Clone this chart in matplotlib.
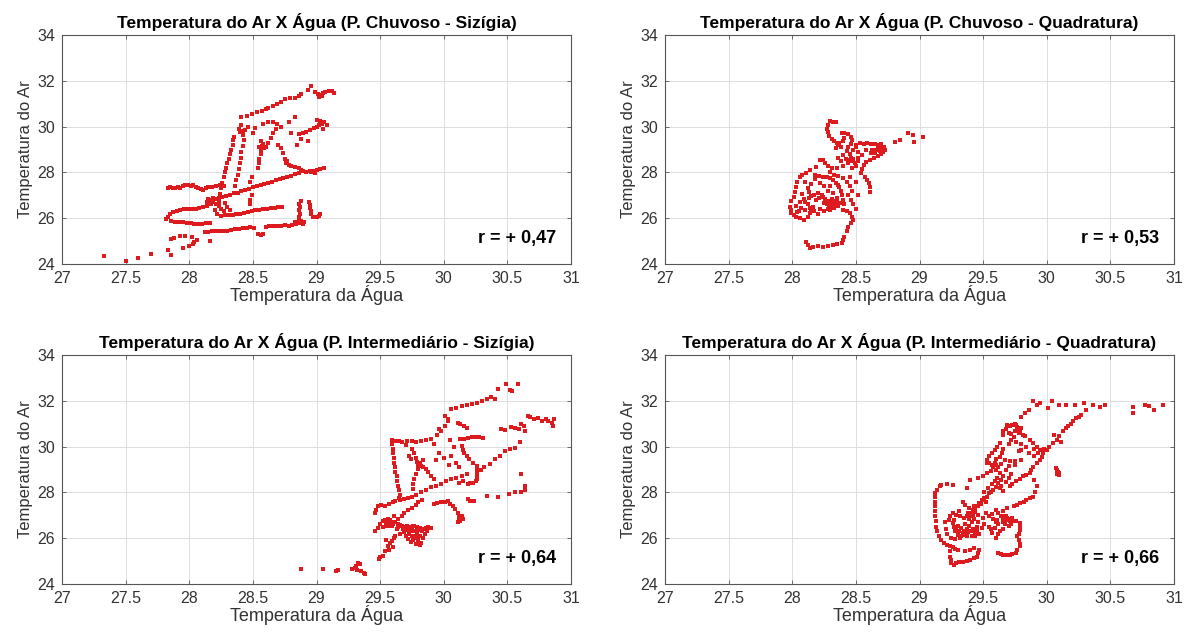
import matplotlib
matplotlib.use("Agg")
import matplotlib.pyplot as plt

plt.rcParams['font.family'] = ['Liberation Sans', 'DejaVu Sans']

titles = [
    "Temperatura do Ar X Água (P. Chuvoso - Sizígia)",
    "Temperatura do Ar X Água (P. Chuvoso - Quadratura)",
    "Temperatura do Ar X Água (P. Intermediário - Sizígia)",
    "Temperatura do Ar X Água (P. Intermediário - Quadratura)",
]
r_labels = ["r = + 0,47", "r = + 0,53", "r = + 0,64", "r = + 0,66"]
x_ticks = [27, 27.5, 28, 28.5, 29, 29.5, 30, 30.5, 31]
x_ticklabels = ["27", "27.5", "28", "28.5", "29", "29.5", "30", "30.5", "31"]
y_ticks = [24, 26, 28, 30, 32, 34]
xlabel = "Temperatura da Água"
ylabel = "Temperatura do Ar"

pts_chuvoso_sizigia = [
    (27.33,24.35),(27.50,24.15),(27.60,24.28),(27.70,24.42),(27.83,24.62),(27.86,24.38),
    (27.83,27.32),(27.85,27.36),(27.87,27.30),(27.89,27.34),(27.91,27.38),(27.93,27.33),(27.95,27.42),(27.97,27.46),(27.99,27.44),(28.01,27.40),(28.03,27.43),(28.05,27.38),(28.07,27.33),(28.09,27.28),(28.11,27.25),(28.13,27.30),(28.15,27.35),(28.18,27.38),(28.21,27.42),(28.24,27.46),(28.27,27.40),
    (28.14,26.72),(28.16,26.78),(28.18,26.70),(28.20,26.82),(28.23,26.88),(28.26,26.92),(28.29,26.98),(28.32,27.02),(28.35,27.08),(28.38,27.12),(28.41,27.18),(28.44,27.22),(28.47,27.28),(28.50,27.35),(28.53,27.40),(28.56,27.44),(28.59,27.50),(28.62,27.55),(28.65,27.60),(28.68,27.66),(28.71,27.70),(28.74,27.76),(28.77,27.80),(28.80,27.86),(28.83,27.92),(28.86,27.98),(28.89,28.04),(28.92,28.02),(28.95,28.08),(28.98,28.05),(29.00,28.12),(29.03,28.15),(29.06,28.18),(28.96,28.00),(28.99,27.98),
    (27.82,25.96),(27.83,26.05),(27.85,26.18),(27.87,26.26),(27.90,26.30),(27.93,26.35),(27.96,26.38),(27.99,26.40),(28.02,26.42),(28.05,26.40),(28.08,26.46),(28.11,26.50),(28.14,26.55),(28.17,26.60),
    (28.22,26.20),(28.25,26.10),(28.28,26.12),(28.31,26.15),(28.34,26.16),(28.37,26.18),(28.40,26.20),(28.43,26.24),(28.46,26.28),(28.49,26.32),(28.52,26.34),(28.55,26.37),(28.58,26.40),(28.61,26.40),(28.64,26.43),(28.67,26.45),(28.70,26.47),(28.73,26.48),
    (27.86,25.89),(27.89,25.85),(27.92,25.83),(27.95,25.82),(27.98,25.80),(28.01,25.78),(28.04,25.76),(28.07,25.74),(28.10,25.76),(28.13,25.78),(28.16,25.77),
    (28.12,25.38),(28.15,25.40),(28.18,25.43),(28.21,25.44),(28.24,25.46),(28.27,25.45),(28.30,25.46),(28.33,25.49),(28.36,25.52),(28.39,25.54),(28.42,25.56),(28.45,25.58),(28.48,25.60),(28.51,25.58),(28.54,25.32),(28.56,25.28),(28.58,25.30),(28.60,25.62),(28.63,25.66),(28.66,25.68),(28.69,25.66),(28.72,25.66),(28.75,25.70),(28.78,25.68),(28.81,25.72),(28.84,25.76),(28.87,25.80),(28.89,25.74),
    (28.86,25.90),(28.86,26.05),(28.87,26.20),(28.86,26.35),(28.87,26.50),(28.86,26.62),(28.88,26.76),
    (28.94,26.70),(28.95,26.58),(28.95,26.45),(28.96,26.32),(28.96,26.18),(28.97,26.06),(29.00,26.04),(29.02,26.10),(29.03,26.18),
    (27.86,25.09),(27.88,25.15),(27.93,25.23),(27.95,24.72),(27.97,25.22),(28.02,25.16),(28.03,24.87),(28.04,24.95),(28.06,25.05),(28.16,25.01),(28.00,24.80),
    (28.20,26.35),(28.22,26.60),(28.24,27.05),(28.25,27.30),(28.26,27.55),(28.27,27.80),(28.28,28.00),(28.29,28.20),(28.30,28.40),(28.31,28.60),(28.32,28.80),(28.33,29.00),(28.34,29.20),(28.34,29.40),(28.35,29.55),
    (28.36,27.40),(28.37,27.65),(28.38,27.90),(28.39,28.15),(28.40,28.40),(28.41,28.65),(28.41,28.90),(28.42,29.15),(28.43,29.40),(28.42,29.62),(28.40,29.75),(28.42,29.82),(28.44,29.86),(28.39,29.90),(28.41,30.05),
    (28.48,26.62),(28.48,26.80),(28.49,27.00),(28.48,27.60),(28.49,27.80),
    (28.54,28.20),(28.55,28.40),(28.55,28.60),(28.56,28.80),(28.56,29.00),(28.57,29.16),(28.58,29.22),(28.55,29.10),(28.56,29.38),(28.59,29.05),
    (28.60,29.10),(28.62,29.30),(28.64,29.50),(28.66,29.70),(28.68,29.90),(28.69,30.10),(28.66,30.18),(28.72,30.00),
    (28.70,29.20),(28.72,29.05),(28.74,28.85),(28.75,28.60),(28.76,28.40),(28.78,28.32),(28.80,28.30),(28.83,28.25),(28.86,28.20),(28.88,28.12),(28.77,28.48),
    (28.41,30.40),(28.45,30.45),(28.49,30.54),(28.53,30.62),(28.57,30.69),(28.60,30.78),(28.62,30.83),(28.66,30.90),(28.69,30.98),(28.72,31.08),(28.75,31.20),(28.79,31.25),(28.83,31.27),(28.86,31.35),(28.88,31.42),(28.93,31.60),(28.96,31.78),(28.99,31.50),(29.01,31.42),(29.03,31.38),(29.05,31.45),(29.07,31.49),(29.10,31.56),(29.12,31.55),(29.14,31.48),(29.02,31.30),(29.04,31.32),
    (28.86,29.67),(28.89,29.72),(28.92,29.78),(28.95,29.85),(28.98,29.92),(29.00,29.98),(29.02,30.05),(29.04,30.10),(29.06,30.18),(29.08,30.05),(29.05,29.90),(29.03,30.25),(29.00,30.30),
    (28.83,30.40),(28.78,30.18),(28.93,29.38),(28.52,29.96),(28.62,30.18),(28.46,30.00),(28.50,29.70),(28.80,29.70),(28.85,29.20),(28.88,29.45),(28.58,30.10),
    (28.17,26.65),(28.19,26.75),(28.21,26.62),(28.23,26.55),(28.25,26.40),(28.27,26.30),(28.15,26.85),(28.19,26.90),(28.23,26.72),(28.28,26.65),(28.30,26.50),(28.32,26.35),
    (28.85,25.85),(28.88,25.88),(28.83,25.82),(28.90,25.82),
]

pts_chuvoso_quadratura = [
    (28.30,30.25),(28.32,30.22),(28.34,30.18),(28.28,30.05),(28.27,29.90),(28.28,29.75),(28.29,29.60),(28.31,29.48),(28.33,29.38),(28.35,29.30),(28.37,29.27),(28.36,29.20),(28.38,29.10),(28.34,29.05),
    (28.39,29.70),(28.41,29.74),(28.44,29.66),(28.46,29.55),(28.47,29.40),(28.46,29.25),(28.44,29.10),(28.43,28.95),(28.45,28.80),(28.46,28.65),(28.45,28.54),(28.47,28.48),(28.49,28.42),(28.44,28.40),(28.48,28.60),(28.42,28.60),(28.40,28.75),
    (28.50,29.20),(28.53,29.27),(28.56,29.25),(28.59,29.30),(28.62,29.26),(28.65,29.22),(28.68,29.20),(28.70,29.05),(28.71,28.90),(28.70,28.80),(28.67,28.70),(28.64,28.62),(28.61,28.55),(28.58,28.45),(28.56,28.33),(28.55,28.15),(28.54,27.96),(28.57,27.80),(28.59,27.65),(28.60,27.53),(28.61,27.35),(28.61,27.16),(28.66,29.00),(28.62,28.85),(28.58,29.00),(28.55,28.75),(28.52,28.65),(28.72,29.10),(28.69,28.95),
    (28.81,29.34),(28.85,29.42),(28.91,29.70),(28.95,29.64),(28.96,29.34),(29.03,29.56),
    (28.19,28.25),(28.14,28.11),(28.11,27.96),(28.08,27.90),(28.06,27.82),(28.04,27.60),(28.03,27.38),(28.02,27.15),(28.01,26.94),(27.99,26.75),(27.98,26.51),(27.99,26.35),(27.99,26.22),(28.01,26.15),(28.03,26.07),(28.06,26.00),(28.09,25.92),(28.12,26.05),(28.14,26.22),(28.15,26.38),(28.16,26.51),(28.05,26.30),(28.07,26.45),(28.10,26.35),(28.03,26.55),(28.04,26.25),
    (28.19,26.80),(28.21,26.90),(28.24,26.94),(28.26,26.85),(28.28,26.75),(28.30,26.65),(28.32,26.51),(28.29,26.55),(28.31,26.70),(28.33,26.60),(28.35,26.72),(28.27,26.62),(28.25,26.68),(28.23,27.00),(28.17,27.00),(28.15,26.95),(28.13,26.88),(28.20,27.08),(28.27,27.82),(28.30,27.75),(28.32,27.67),(28.34,27.55),(28.36,27.45),(28.37,27.38),(28.38,27.20),(28.39,27.00),(28.40,26.80),(28.41,26.60),(28.40,26.36),(28.24,27.80),(28.21,27.85),(28.18,27.90),(28.22,28.54),(28.24,28.54),(28.26,28.40),(28.28,28.30),
    (28.43,26.30),(28.45,26.22),(28.47,26.05),(28.48,25.92),(28.46,25.80),(28.44,25.63),(28.43,25.45),(28.41,25.20),(28.40,25.05),(28.39,24.91),(28.35,24.86),(28.32,24.83),(28.28,24.80),(28.24,24.76),(28.20,24.78),(28.16,24.76),(28.14,24.69),(28.12,24.85),(28.11,24.98),
    (28.10,27.60),(28.12,27.30),(28.08,27.05),(28.35,28.20),(28.45,27.80),(28.50,27.60),(28.47,27.20),(28.52,27.00),
    (28.10,26.70),(28.12,26.60),(28.14,26.45),(28.17,26.30),(28.20,26.20),(28.22,26.40),(28.25,26.30),(28.28,26.40),(28.30,26.35),(28.33,26.45),(28.36,26.55),(28.38,26.65),(28.35,26.90),(28.32,27.10),(28.28,27.20),(28.25,27.40),(28.22,27.55),(28.18,27.70),(28.15,27.50),(28.13,27.15),(28.09,26.85),(28.06,26.70),(28.31,26.85),(28.34,26.75),(28.30,27.40),(28.33,27.90),(28.36,27.85),(28.40,27.75),(28.43,27.60),(28.45,27.40),(28.44,27.00),(28.46,26.80),(28.48,26.60),(28.50,26.40),(28.47,28.20),(28.50,28.30),(28.52,28.50),(28.40,28.30),(28.38,28.50),(28.36,28.65),(28.31,28.20),(28.30,28.00),(28.48,29.00),(28.50,29.10),(28.52,28.90),(28.41,29.50),(28.40,29.35),(28.63,29.00),(28.65,28.85),(28.67,29.10),(28.70,29.25),(28.73,29.00),
]

pts_intermediario_sizigia = [
    (28.88,24.65),(29.05,24.65),(29.15,24.58),(29.17,24.60),(29.28,24.65),(29.30,24.72),(29.31,24.80),(29.33,24.90),(29.34,24.87),(29.35,24.58),(29.37,24.50),(29.38,24.43),(29.32,24.62),
    (29.49,25.10),(29.50,25.16),(29.52,25.23),(29.54,25.45),(29.56,25.67),(29.58,25.80),(29.59,25.89),(29.61,26.00),(29.62,26.10),(29.57,25.50),(29.55,25.90),(29.60,25.60),
    (29.46,26.30),(29.48,26.45),(29.50,26.60),(29.52,26.76),(29.54,26.80),(29.56,26.83),(29.58,26.78),(29.60,26.72),(29.62,26.69),(29.64,26.62),(29.66,26.57),(29.67,26.54),(29.69,26.50),(29.71,26.54),(29.72,26.50),(29.74,26.47),(29.76,26.52),(29.77,26.54),(29.79,26.48),(29.81,26.45),(29.82,26.40),(29.84,26.42),(29.86,26.44),(29.88,26.47),(29.90,26.45),(29.75,26.10),(29.77,26.00),(29.80,25.89),(29.82,25.81),(29.78,25.75),(29.72,25.96),(29.70,26.10),(29.69,26.25),(29.73,26.20),(29.76,26.30),(29.79,26.20),(29.81,26.10),(29.84,26.00),(29.66,26.20),(29.63,26.40),(29.58,26.55),(29.55,26.55),(29.52,26.50),(29.61,26.95),
    (29.46,27.12),(29.47,27.25),(29.48,27.41),(29.51,27.45),(29.54,27.41),(29.57,27.50),(29.60,27.58),(29.62,27.63),(29.66,27.66),(29.69,27.70),(29.72,27.74),(29.75,27.78),(29.78,27.88),(29.82,28.00),(29.86,28.10),(29.90,28.22),(29.94,28.28),(29.98,28.36),(30.02,28.48),(30.06,28.58),(30.10,28.65),(30.14,28.72),(30.18,28.80),
    (29.59,26.54),(29.62,26.70),(29.64,26.83),(29.67,26.98),(29.69,27.12),(29.72,27.22),(29.75,27.34),(29.78,27.45),(29.80,27.56),(29.83,27.65),
    (29.59,30.30),(29.59,30.10),(29.60,29.90),(29.60,29.70),(29.61,29.50),(29.61,29.30),(29.62,29.10),(29.62,28.90),(29.63,28.70),(29.63,28.50),(29.64,28.30),(29.65,28.10),(29.66,27.90),(29.65,27.75),
    (29.62,30.25),(29.65,30.25),(29.67,30.22),(29.71,30.24),(29.75,30.25),(29.78,30.20),(29.82,30.25),(29.86,30.28),(29.90,30.33),(29.70,30.05),
    (29.75,29.90),(29.77,29.74),(29.78,29.50),(29.79,29.31),(29.80,29.15),(29.80,29.02),(29.78,28.80),(29.77,28.58),(29.76,28.36),(29.76,28.14),(29.73,29.60),(29.74,29.45),
    (29.82,29.16),(29.84,29.10),(29.86,29.02),(29.88,28.90),(29.90,28.72),(29.92,28.60),(29.81,29.30),(29.84,29.40),
    (29.92,30.10),(29.95,30.50),(29.96,30.76),(29.98,30.70),(30.01,30.90),(30.03,31.10),(30.01,31.34),(30.03,31.20),(30.06,31.64),(30.10,31.70),(30.14,31.78),(30.18,31.80),(30.22,31.85),(30.26,31.92),(30.30,32.00),(30.34,32.08),(30.37,32.15),(30.40,32.10),(30.43,32.51),(30.49,32.73),(30.52,32.45),(30.54,32.44),(30.58,32.73),
    (30.05,30.30),(30.08,30.00),(30.11,31.05),(30.13,31.00),(30.16,30.90),(30.18,30.80),(30.06,29.60),(30.10,29.30),(30.12,29.10),(30.04,29.20),(30.00,29.50),(29.96,29.70),(29.94,29.40),(30.15,28.50),(30.12,28.40),
    (30.13,30.33),(30.16,30.35),(30.19,30.38),(30.22,30.40),(30.25,30.42),(30.28,30.40),(30.31,30.38),(30.14,30.03),(30.15,29.85),(30.16,29.74),(30.18,29.60),(30.20,29.45),(30.23,29.30),(30.26,29.16),(30.26,29.02),(30.26,28.87),(30.26,28.72),(30.26,28.58),(30.23,28.43),(30.19,28.36),(30.21,28.40),(30.25,28.50),
    (30.45,30.76),(30.48,30.72),(30.53,30.84),(30.56,30.80),(30.61,30.98),(30.63,30.90),(30.66,31.34),(30.68,31.30),(30.71,31.20),(30.74,31.25),(30.77,31.13),(30.80,31.20),(30.82,31.10),(30.85,31.05),(30.87,31.20),(30.86,30.90),(30.64,30.69),(30.59,30.75),
    (30.29,29.00),(30.32,29.09),(30.36,29.25),(30.40,29.45),(30.44,29.60),(30.48,29.82),(30.52,29.90),(30.56,29.96),(30.60,30.20),(30.61,28.80),(30.64,28.29),
    (30.19,27.70),(30.21,27.62),(30.24,27.63),(30.34,27.85),(30.43,27.78),(30.51,27.92),(30.56,28.00),(30.61,28.03),(30.64,28.10),
    (29.95,27.55),(29.98,27.56),(30.01,27.60),(30.03,27.63),(30.05,27.50),(30.07,27.41),(30.09,27.28),(30.11,27.12),(30.12,26.98),(30.12,26.83),(30.11,26.69),(30.13,26.75),(30.14,26.98),(30.15,26.85),(29.92,27.48),
    (29.55,26.70),(29.57,26.65),(29.60,26.60),(29.64,26.50),(29.68,26.40),(29.70,26.35),(29.73,26.35),(29.75,26.40),(29.78,26.30),(29.80,26.35),(29.83,26.30),(29.85,26.20),(29.87,26.30),(29.78,26.10),(29.80,26.00),(29.76,25.90),(29.74,25.85),(29.81,25.70),
]

pts_intermediario_quadratura = [
    (29.89,31.97),(29.92,31.83),(29.95,31.90),(30.01,31.68),(30.04,31.97),(30.10,31.83),(30.15,31.83),(30.22,31.83),(30.29,31.90),(30.31,31.61),(30.36,31.83),(30.42,31.75),(30.46,31.83),(30.68,31.75),(30.68,31.46),(30.77,31.83),(30.80,31.78),(30.84,31.61),(30.91,31.83),
    (29.83,31.46),(29.86,31.61),(29.80,31.30),
    (30.02,30.00),(30.05,30.15),(30.08,30.30),(30.10,30.45),(30.13,30.66),(30.15,30.80),(30.17,30.88),(30.19,31.00),(30.21,31.10),(30.23,31.24),(30.25,31.30),(30.27,31.39),(30.00,29.85),(30.06,30.50),(30.11,30.20),
    (29.66,30.66),(29.68,30.78),(29.71,30.88),(29.73,30.95),(29.75,31.00),(29.76,30.95),(29.77,30.85),(29.78,30.73),(29.79,30.65),(29.80,30.80),(29.74,30.44),(29.72,30.55),(29.70,30.60),(29.81,30.52),(29.83,30.45),(29.78,30.60),(29.75,30.70),(29.69,30.95),(29.66,30.50),
    (29.87,30.30),(29.89,30.15),(29.92,30.00),(29.95,29.85),(29.97,29.71),(29.96,29.55),(29.95,29.42),(29.92,29.28),(29.89,29.13),(29.88,28.98),(29.87,28.84),(29.84,28.77),(29.81,28.70),(29.79,28.60),(29.76,28.48),(29.73,28.36),(29.71,28.26),(29.90,29.90),(29.93,29.70),(29.98,29.90),
    (30.07,29.06),(30.08,28.99),(30.09,28.90),(30.10,28.84),(30.10,28.77),(30.08,28.80),
    (29.63,30.15),(29.61,30.00),(29.59,29.86),(29.57,29.70),(29.55,29.57),(29.53,29.42),(29.53,29.28),(29.55,29.30),(29.57,29.21),(29.59,29.30),(29.60,29.20),(29.62,29.10),(29.60,28.99),(29.63,28.85),(29.66,28.70),(29.64,28.55),(29.62,28.40),(29.60,28.25),(29.58,28.11),(29.55,27.96),(29.53,27.82),(29.51,27.75),(29.49,27.68),(29.47,27.54),(29.46,27.39),(29.44,27.30),(29.42,27.24),(29.41,27.12),(29.40,27.02),(29.37,26.95),(29.38,27.10),(29.43,27.40),(29.48,27.50),(29.52,27.60),(29.56,28.00),(29.64,28.30),
    (29.67,29.40),(29.71,29.35),(29.75,29.38),(29.80,29.40),(29.70,29.15),(29.75,29.20),(29.78,29.80),(29.80,29.85),(29.65,29.70),
    (29.16,28.26),(29.14,28.10),(29.12,27.97),(29.12,27.80),(29.12,27.60),(29.12,27.39),(29.12,27.20),(29.12,26.95),(29.13,26.75),(29.13,26.51),(29.14,26.30),(29.15,26.08),(29.17,25.90),(29.19,25.78),(29.22,25.70),(29.24,25.64),(29.24,25.45),(29.24,25.20),(29.25,25.05),(29.25,24.91),(29.27,24.85),(29.29,24.91),(29.31,24.95),(29.34,24.98),(29.37,25.02),(29.40,25.06),(29.43,25.12),(29.45,25.20),(29.46,25.35),(29.47,25.49),(29.43,25.56),(29.40,25.50),(29.36,25.45),(29.28,25.55),(29.26,25.60),(29.30,25.50),
    (29.20,26.70),(29.23,26.80),(29.26,26.66),(29.27,26.50),(29.29,26.37),(29.31,26.30),(29.34,26.22),(29.36,26.15),(29.37,26.08),(29.40,26.30),(29.42,26.40),(29.44,26.20),(29.44,26.08),(29.45,26.51),(29.46,26.70),(29.42,26.95),(29.39,26.85),(29.35,26.90),(29.32,26.95),(29.29,27.00),(29.26,27.10),(29.24,26.95),(29.21,26.40),(29.22,26.20),(29.25,26.00),(29.28,25.95),(29.32,26.00),(29.38,26.25),(29.41,26.10),(29.43,26.30),
    (29.55,26.95),(29.57,27.05),(29.60,27.24),(29.62,27.10),(29.64,26.98),(29.66,26.88),(29.68,26.80),(29.71,26.73),(29.74,26.75),(29.76,26.73),(29.79,26.66),(29.79,26.50),(29.79,26.37),(29.78,26.20),(29.77,26.08),(29.78,25.90),(29.79,25.75),(29.79,25.64),(29.77,25.48),(29.76,25.35),(29.73,25.30),(29.71,25.28),(29.68,25.28),(29.66,25.28),(29.64,25.30),(29.62,25.35),(29.55,26.51),(29.57,26.22),(29.60,26.00),(29.63,26.30),(29.66,26.70),(29.69,26.90),(29.72,26.60),(29.65,26.95),(29.61,26.80),
    (29.74,27.39),(29.77,27.46),(29.79,27.53),(29.82,27.60),(29.84,27.68),(29.87,27.75),(29.89,27.82),(29.91,28.00),(29.92,28.26),(29.90,28.55),(29.69,27.30),(29.66,27.20),
    (29.17,28.33),(29.22,28.38),(29.26,28.33),(29.37,28.19),(29.40,28.55),(29.46,28.62),(29.53,28.84),(29.50,28.70),(29.56,28.95),(29.58,29.10),
    (29.28,26.30),(29.30,26.15),(29.33,26.10),(29.35,26.30),(29.37,26.40),(29.39,26.55),(29.41,26.70),(29.43,26.85),(29.36,26.60),(29.33,26.45),(29.30,26.55),(29.27,26.80),(29.45,26.35),(29.47,26.20),(29.49,26.45),(29.51,26.60),(29.50,26.90),(29.52,27.10),(29.46,27.00),(29.44,27.15),(29.39,27.30),(29.36,27.45),(29.34,27.60),(29.31,27.20),(29.68,26.95),(29.70,26.85),(29.73,26.90),(29.67,26.62),(29.70,26.55),(29.62,26.60),(29.60,26.70),(29.58,26.85),(29.56,26.40),(29.59,26.45),(29.62,26.20),(29.66,26.40),(29.51,28.00),(29.54,28.20),(29.57,28.35),(29.59,28.50),(29.61,28.65),(29.63,28.20),(29.66,28.05),(29.68,28.45),(29.70,28.65),(29.72,28.80),(29.68,29.00),(29.64,29.25),(29.60,29.45),(29.63,29.55),(29.66,29.90),(29.70,30.10),(29.72,30.30),(29.76,30.20),(29.80,30.10),(29.84,30.00),(29.86,29.70),(29.90,29.60),
]

panels = [pts_chuvoso_sizigia, pts_chuvoso_quadratura,
          pts_intermediario_sizigia, pts_intermediario_quadratura]

W, H = 1193, 639
fig = plt.figure(figsize=(W / 100, H / 100), dpi=100)
fig.patch.set_facecolor('white')

# axes boxes in pixels: left, top, right, bottom
boxes = [(62, 35, 571, 264), (665, 35, 1174, 264),
         (62, 355, 571, 584), (665, 355, 1174, 584)]

spine_col = '#555555'
for i, (pts, (l, t, r, b)) in enumerate(zip(panels, boxes)):
    ax = fig.add_axes([l / W, 1 - b / H, (r - l) / W, (b - t) / H])
    xs = [p[0] for p in pts]
    ys = [p[1] for p in pts]
    ax.scatter(xs, ys, s=5, c='#dd1a1e', marker='s', linewidths=0, zorder=3)
    ax.set_xlim(27, 31)
    ax.set_ylim(24, 34)
    ax.set_xticks(x_ticks)
    ax.set_xticklabels(x_ticklabels)
    ax.set_yticks(y_ticks)
    ax.grid(True, color='#dedede', linewidth=0.7, zorder=0)
    ax.set_axisbelow(True)
    for s in ax.spines.values():
        s.set_color(spine_col)
        s.set_linewidth(0.8)
    ax.tick_params(direction='in', length=3, width=0.6, colors=spine_col,
                   labelcolor='#333333', labelsize=11.5, top=True, right=True)
    ax.tick_params(axis='x', pad=5)
    ax.tick_params(axis='y', pad=5)
    ax.set_xlabel(xlabel, fontsize=13, color='#333333', labelpad=-1)
    ax.set_ylabel(ylabel, fontsize=12, color='#333333', labelpad=3)
    ax.set_title(titles[i], fontsize=12.5, fontweight='bold', color='black', pad=5)
    ax.text(30.88, 25.12, r_labels[i], ha='right', va='center',
            fontsize=13, fontweight='bold', color='black', zorder=4)

fig.savefig('out.png', dpi=100, facecolor='white')
